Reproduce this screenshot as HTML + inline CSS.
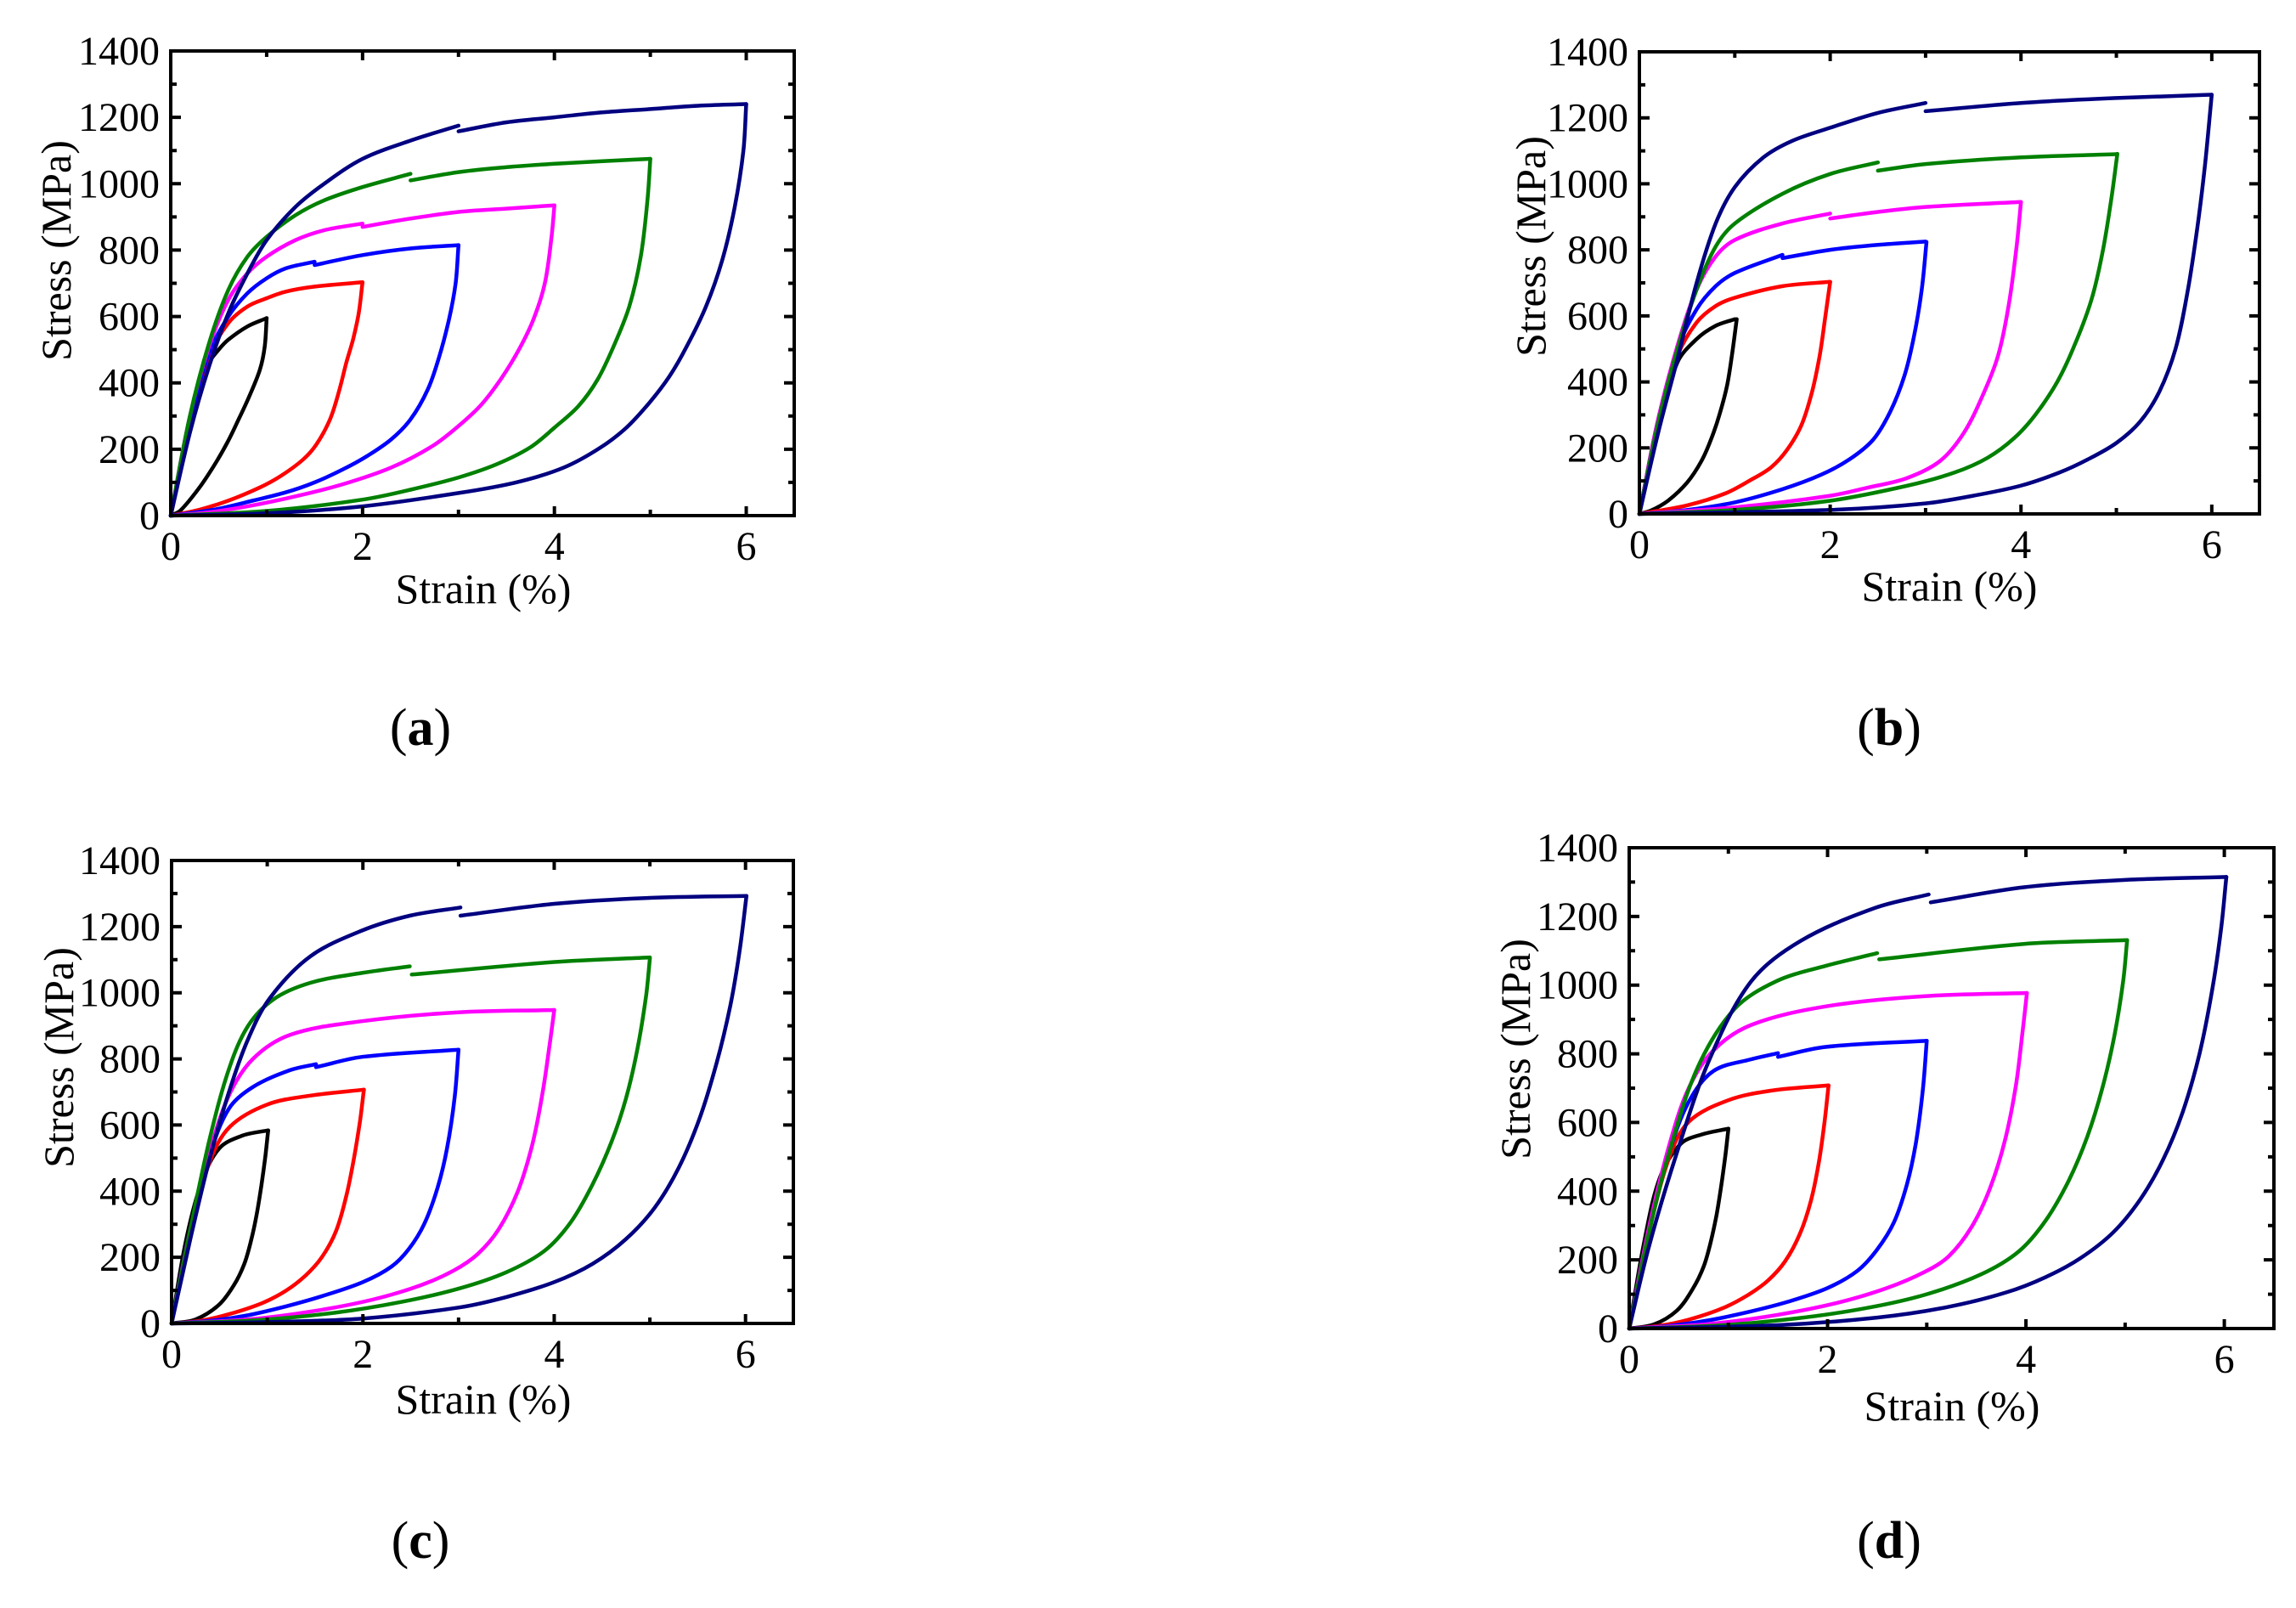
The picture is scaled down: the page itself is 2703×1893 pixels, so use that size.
<!DOCTYPE html>
<html><head><meta charset="utf-8"><style>
html,body{margin:0;padding:0;background:#fff;}
svg{display:block;}
text{font-family:"Liberation Serif",serif;fill:#000;}
</style></head><body>
<svg id="fig" width="2703" height="1893" viewBox="0 0 2703 1893" xmlns="http://www.w3.org/2000/svg"></svg>
<script>
// ---- shared data ----
const xTicks=[0,2,4,6];
const yTicks=[0,200,400,600,800,1000,1200,1400];
const seriesColors=['#000000','#ff0000','#0000ff','#ff00ff','#008000','#000080'];
const seriesNames=['loop-1pct','loop-2pct','loop-3pct','loop-4pct','loop-5pct','loop-6pct'];

// ---- panel a ----
const aKLoad=[[0,0],[0.2,270],[0.4,460],[0.5,500],[0.6,530],[0.8,570],[1.0,595]];
const aKUnl=[[1.0,595],[0.98,510],[0.93,440],[0.82,360],[0.7,285],[0.59,220],[0.45,150],[0.3,85],[0.1,15],[0,0]];
const aRLoad=[[0,0],[0.2,280],[0.4,480],[0.6,580],[0.8,630],[1.0,655],[1.2,675],[1.5,690],[2.0,703]];
const aRUnl=[[2.0,703],[1.96,610],[1.9,530],[1.83,460],[1.75,370],[1.66,290],[1.52,215],[1.38,169],[1.15,120],[0.93,85],[0.6,45],[0.3,18],[0,0]];
const aBLoad=[[0,0],[0.2,280],[0.4,490],[0.6,600],[0.8,670],[1.0,715],[1.2,745],[1.5,765],null,[1.5,755],[2.0,785],[2.5,805],[3.0,815]];
const aBUnl=[[3.0,815],[2.97,700],[2.9,590],[2.8,480],[2.68,380],[2.5,290],[2.3,230],[2.05,180],[1.8,140],[1.5,100],[1.2,70],[0.87,46],[0.45,18],[0,0]];
const aMLoad=[[0,0],[0.2,300],[0.4,510],[0.6,650],[0.8,730],[1.0,780],[1.3,830],[1.6,860],[2.0,880],null,[2.0,870],[2.5,895],[3.0,915],[3.5,925],[4.0,935]];
const aMUnl=[[4.0,935],[3.97,840],[3.9,700],[3.78,590],[3.63,500],[3.45,415],[3.24,335],[3.0,270],[2.73,210],[2.3,145],[1.8,95],[1.3,58],[0.8,28],[0.4,10],[0,0]];
const aGLoad=[[0,0],[0.2,300],[0.4,520],[0.6,680],[0.8,780],[1.0,840],[1.3,905],[1.6,950],[2.0,990],[2.5,1030],null,[2.5,1010],[3.0,1035],[3.5,1050],[4.0,1060],[4.5,1068],[5.0,1075]];
const aGUnl=[[5.0,1075],[4.97,950],[4.9,780],[4.78,630],[4.62,512],[4.45,410],[4.25,330],[4.0,265],[3.75,206],[3.4,155],[3.0,115],[2.5,78],[2.0,48],[1.0,14],[0,0]];
const aNLoad=[[0,0],[0.2,250],[0.4,450],[0.6,610],[0.8,730],[1.0,830],[1.3,930],[1.6,1000],[2.0,1075],[2.5,1130],[3.0,1175],null,[3.0,1158],[3.5,1185],[4.0,1200],[4.5,1215],[5.0,1225],[5.5,1235],[6.0,1240]];
const aNUnl=[[6.0,1240],[5.97,1100],[5.88,930],[5.75,770],[5.58,630],[5.38,510],[5.2,420],[4.99,340],[4.75,265],[4.48,205],[4.1,145],[3.6,100],[3.0,68],[2.0,28],[1.0,7],[0,0]];

// ---- panel b ----
const bKLoad=[[0,0],[0.2,270],[0.4,460],[0.6,530],[0.8,570],[1.0,590]];
const bKUnl=[[1.02,590],[0.97,480],[0.92,390],[0.84,301],[0.75,225],[0.65,160],[0.5,95],[0.3,40],[0.12,10],[0,0]];
const bRLoad=[[0,0],[0.2,290],[0.4,480],[0.6,580],[0.8,630],[1.0,655],[1.5,690],[2.0,703]];
const bRUnl=[[2.0,703],[1.95,600],[1.89,480],[1.81,370],[1.7,270],[1.55,195],[1.38,141],[1.15,100],[0.9,62],[0.5,26],[0,0]];
const bBLoad=[[0,0],[0.2,290],[0.4,500],[0.6,620],[0.8,690],[1.0,730],[1.5,785],null,[1.5,775],[2.0,800],[2.5,815],[3.0,825]];
const bBUnl=[[3.01,824],[2.96,680],[2.88,540],[2.78,420],[2.63,310],[2.45,225],[2.2,165],[1.9,118],[1.5,75],[1.0,35],[0.5,12],[0,0]];
const bMLoad=[[0,0],[0.2,290],[0.4,510],[0.6,680],[0.8,780],[1.0,830],[1.5,880],[2.0,910],null,[2.0,895],[2.5,915],[3.0,930],[4.0,945]];
const bMUnl=[[4.0,945],[3.95,800],[3.87,630],[3.76,480],[3.6,360],[3.4,245],[3.15,160],[2.8,108],[2.4,80],[2.0,55],[1.0,20],[0,0]];
const bGLoad=[[0,0],[0.2,280],[0.4,500],[0.6,680],[0.8,810],[1.0,880],[1.5,970],[2.0,1030],[2.5,1065],null,[2.5,1040],[3.0,1060],[4.0,1080],[5.0,1090]];
const bGUnl=[[5.01,1091],[4.95,960],[4.86,800],[4.74,650],[4.56,510],[4.38,400],[4.15,300],[3.93,230],[3.65,170],[3.3,125],[2.8,85],[2.0,40],[1.0,12],[0,0]];
const bNLoad=[[0,0],[0.2,250],[0.4,470],[0.6,700],[0.8,880],[1.0,990],[1.3,1080],[1.6,1130],[2.0,1170],[2.5,1215],[3.0,1245],null,[3.0,1220],[4.0,1245],[5.0,1260],[6.0,1270]];
const bNUnl=[[6.0,1270],[5.93,1060],[5.85,870],[5.75,680],[5.62,500],[5.45,370],[5.25,280],[5.0,215],[4.7,165],[4.4,125],[3.99,85],[3.5,55],[3.0,32],[2.0,12],[0,0]];

// ---- panel c ----
const cKLoad=[[0,0],[0.15,250],[0.32,433],[0.5,530],[0.74,568],[1.01,584]];
const cKUnl=[[1.01,584],[0.98,505],[0.94,420],[0.89,330],[0.83,250],[0.76,180],[0.65,115],[0.49,55],[0.25,12],[0,0]];
const cRLoad=[[0,0],[0.2,280],[0.4,490],[0.61,595],[1.0,662],[1.45,689],[2.01,707]];
const cRUnl=[[2.01,707],[1.97,613],[1.91,505],[1.83,390],[1.72,280],[1.57,200],[1.4,145],[1.2,100],[0.95,62],[0.6,28],[0.3,8],[0,0]];
const cBLoad=[[0,0],[0.2,290],[0.4,510],[0.6,650],[0.85,715],[1.24,766],[1.51,784],null,[1.51,775],[1.99,806],[3.0,828]];
const cBUnl=[[3.0,828],[2.96,685],[2.88,530],[2.78,410],[2.64,300],[2.48,225],[2.3,172],[2.0,125],[1.6,85],[1.2,52],[0.8,25],[0.4,8],[0,0]];
const cMLoad=[[0,0],[0.2,290],[0.4,520],[0.6,690],[0.85,800],[1.24,873],[1.99,914],[3.0,941],[4.0,948]];
const cMUnl=[[4.0,948],[3.96,860],[3.88,700],[3.77,540],[3.62,400],[3.42,285],[3.2,210],[2.95,160],[2.6,115],[2.1,72],[1.5,38],[0.8,12],[0,0]];
const cGLoad=[[0,0],[0.2,290],[0.4,560],[0.6,770],[0.8,900],[1.07,981],[1.45,1030],[1.99,1060],[2.49,1080],null,[2.51,1055],[4.0,1093],[5.0,1107]];
const cGUnl=[[5.0,1104],[4.96,990],[4.87,830],[4.75,680],[4.6,550],[4.4,420],[4.17,305],[3.9,220],[3.5,155],[3.0,105],[2.4,65],[1.7,32],[0.9,10],[0,0]];
const cNLoad=[[0,0],[0.2,260],[0.4,500],[0.6,700],[0.8,860],[1.03,985],[1.45,1110],[1.99,1188],[2.49,1233],[3.02,1258],null,[3.02,1233],[4.0,1269],[5.0,1287],[6.01,1293]];
const cNUnl=[[6.01,1293],[5.94,1130],[5.84,960],[5.7,790],[5.52,620],[5.3,470],[5.05,350],[4.75,255],[4.4,180],[4.0,125],[3.5,80],[3.0,48],[2.0,15],[1.0,4],[0,0]];

// ---- panel d ----
const dKLoad=[[0,0],[0.15,250],[0.31,440],[0.52,538],[0.73,565],[1.0,582]];
const dKUnl=[[1.0,582],[0.97,505],[0.93,420],[0.88,330],[0.82,250],[0.75,180],[0.64,115],[0.48,52],[0.25,12],[0,0]];
const dRLoad=[[0,0],[0.2,280],[0.4,495],[0.6,602],[1.0,665],[1.44,693],[2.01,708]];
const dRUnl=[[2.01,708],[1.97,602],[1.91,480],[1.83,370],[1.72,275],[1.57,195],[1.4,140],[1.2,98],[0.95,60],[0.6,26],[0.3,8],[0,0]];
const dBLoad=[[0,0],[0.2,290],[0.4,510],[0.6,660],[0.85,750],[1.23,784],[1.5,802],null,[1.5,791],[1.98,820],[3.0,838]];
const dBUnl=[[3.0,838],[2.96,693],[2.89,540],[2.8,420],[2.67,310],[2.5,230],[2.3,168],[2.0,118],[1.6,78],[1.2,48],[0.8,24],[0.4,8],[0,0]];
const dMLoad=[[0,0],[0.2,295],[0.4,530],[0.6,700],[0.85,810],[1.23,884],[1.98,938],[2.98,968],[4.01,977]];
const dMUnl=[[4.01,977],[3.97,875],[3.9,710],[3.79,550],[3.64,410],[3.45,295],[3.22,210],[2.98,165],[2.6,118],[2.1,75],[1.5,40],[0.8,13],[0,0]];
const dGLoad=[[0,0],[0.2,280],[0.4,510],[0.69,760],[1.06,930],[1.48,1011],[1.98,1056],[2.5,1093],null,[2.52,1075],[3.98,1120],[5.02,1131]];
const dGUnl=[[5.02,1131],[4.98,1011],[4.89,850],[4.77,700],[4.62,560],[4.43,430],[4.2,315],[3.93,225],[3.55,158],[3.0,100],[2.4,60],[1.7,30],[0.9,9],[0,0]];
const dNLoad=[[0,0],[0.2,240],[0.48,511],[0.81,784],[1.23,1011],[1.73,1129],[2.48,1225],[3.02,1264],null,[3.04,1241],[3.98,1285],[4.98,1306],[6.02,1315]];
const dNUnl=[[6.02,1315],[5.97,1170],[5.88,990],[5.75,800],[5.58,630],[5.38,490],[5.15,375],[4.88,280],[4.55,205],[4.2,150],[3.8,105],[3.2,62],[2.5,32],[1.5,10],[0,0]];

const NS='http://www.w3.org/2000/svg';
const svg=document.getElementById('fig');
function el(tag,attrs,parent){const e=document.createElementNS(NS,tag);for(const k in attrs)e.setAttribute(k,attrs[k]);(parent||svg).appendChild(e);return e;}

function unit(a,b){const dx=b[0]-a[0],dy=b[1]-a[1];const l=Math.hypot(dx,dy)||1;return [dx/l,dy/l];}
function smoothPath(pts,sx,sy){
  let d='';let seg=[];
  const flush=()=>{if(seg.length<2){seg=[];return;}
    const p=seg.map(q=>[sx(q[0]),sy(q[1])]);
    const n=p.length;
    const dir=p.map((q,i)=>i===0?unit(p[0],p[1]):i===n-1?unit(p[n-2],p[n-1]):unit(p[i-1],p[i+1]));
    d+='M'+p[0][0].toFixed(1)+','+p[0][1].toFixed(1);
    for(let i=0;i<n-1;i++){
      const L=Math.hypot(p[i+1][0]-p[i][0],p[i+1][1]-p[i][1])/3;
      const c1=[p[i][0]+dir[i][0]*L,p[i][1]+dir[i][1]*L];
      const c2=[p[i+1][0]-dir[i+1][0]*L,p[i+1][1]-dir[i+1][1]*L];
      d+='C'+c1[0].toFixed(1)+','+c1[1].toFixed(1)+' '+c2[0].toFixed(1)+','+c2[1].toFixed(1)+' '+p[i+1][0].toFixed(1)+','+p[i+1][1].toFixed(1);
    }
    seg=[];};
  for(const q of pts){if(q===null)flush();else seg.push(q);}
  flush();return d;
}

function panel(id,L,T,R,B,loads,unloads,yt,xt,lab){
  const g=el('g',{});
  
  
  const sx=v=>L+(v/6.5)*(R-L);
  const sy=v=>B-(v/1400)*(B-T);
  for(let i=0;i<6;i++){
    const pl=el('path',{d:smoothPath(loads[i],sx,sy),fill:'none',stroke:seriesColors[i],'stroke-width':4.5,'stroke-linejoin':'round','stroke-linecap':'round'},g);
    
    
    const pu=el('path',{d:smoothPath(unloads[i],sx,sy),fill:'none',stroke:seriesColors[i],'stroke-width':4.5,'stroke-linejoin':'round','stroke-linecap':'round'},g);
    
    
  }
  const fr=el('rect',{x:L,y:T,width:R-L,height:B-T,fill:'none',stroke:'#000','stroke-width':4},g);
  
  
  let tk='';
  for(let v=0;v<=6;v++){const len=v%2===0?11:7;const x=sx(v);tk+=`M${x},${B}v${-len}M${x},${T}v${len}`;}
  for(let v=0;v<=1400;v+=100){const len=v%200===0?12:7;const y=sy(v);tk+=`M${L},${y}h${len}M${R},${y}h${-len}`;}
  const tp=el('path',{d:tk,stroke:'#000','stroke-width':4,fill:'none'},g);
  
  
  for(const v of xTicks){const t=el('text',{x:sx(v),y:B+52,'font-size':48,'text-anchor':'middle'},g);t.textContent=v;
    
    }
  for(const v of yTicks){const t=el('text',{x:L-13,y:sy(v)+16,'font-size':48,'text-anchor':'end'},g);t.textContent=v;
    
    }
  const xt1=el('text',{x:xt[0],y:xt[1],'font-size':50,'text-anchor':'middle'},g);xt1.textContent='Strain (%)';
  
  
  const yt1=el('text',{x:0,y:0,'font-size':50,'text-anchor':'middle',transform:`translate(${yt[0]+17},${yt[1]}) rotate(-90)`},g);yt1.textContent='Stress (MPa)';
  
  
  const pl=el('text',{x:lab[0],y:lab[1],'font-size':62,'text-anchor':'middle'},g);
  pl.innerHTML='(<tspan font-weight="bold">'+id+'</tspan>)';
  
  
}

panel('a',201,60,935,607,[aKLoad,aRLoad,aBLoad,aMLoad,aGLoad,aNLoad],[aKUnl,aRUnl,aBUnl,aMUnl,aGUnl,aNUnl],[66,295],[569,710],[495,877]);
panel('b',1930,61,2660,605,[bKLoad,bRLoad,bBLoad,bMLoad,bGLoad,bNLoad],[bKUnl,bRUnl,bBUnl,bMUnl,bGUnl,bNUnl],[1802,290],[2295,707],[2224,877]);
panel('c',202,1013,934,1558,[cKLoad,cRLoad,cBLoad,cMLoad,cGLoad,cNLoad],[cKUnl,cRUnl,cBUnl,cMUnl,cGUnl,cNUnl],[69,1245],[569,1664],[495,1834]);
panel('d',1918,998,2677,1564,[dKLoad,dRLoad,dBLoad,dMLoad,dGLoad,dNLoad],[dKUnl,dRUnl,dBUnl,dMUnl,dGUnl,dNUnl],[1784,1235],[2298,1672],[2224,1834]);
</script>
</body></html>
